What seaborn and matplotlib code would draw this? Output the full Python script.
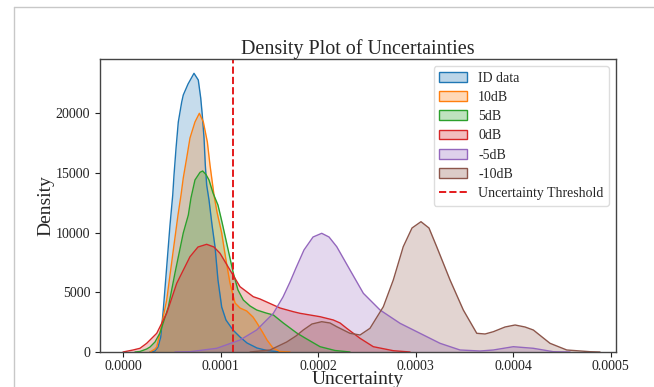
import numpy as np
import pandas as pd
import matplotlib
matplotlib.use("Agg")
import matplotlib.pyplot as plt
from matplotlib.patches import Patch
from matplotlib.lines import Line2D
import seaborn as sns

# ---- data (x in units of 1e-4, density values) ----
id_x = [0.277, 0.328, 0.359, 0.387, 0.413, 0.448, 0.482, 0.510, 0.523, 0.544, 0.567, 0.602,
        0.618, 0.667, 0.728, 0.772, 0.797, 0.813, 0.831, 0.844, 0.858, 0.882, 0.913, 0.944,
        0.974, 1.012, 1.056, 1.128, 1.200, 1.272, 1.374, 1.477, 1.610]
id_y = [0, 84, 419, 1256, 3518, 7119, 10636, 13149, 14824, 17085, 19263, 20938,
        21524, 22445, 23341, 22780, 21273, 19849, 17922, 15661, 13986, 12730, 10636, 8794,
        6030, 3769, 2680, 1843, 1256, 754, 335, 126, 0]

db10_x = [0.277, 0.328, 0.346, 0.379, 0.448, 0.516, 0.564, 0.595, 0.618, 0.653, 0.687, 0.738,
          0.783, 0.824, 0.865, 0.892, 0.933, 0.964, 1.012, 1.056, 1.097, 1.149, 1.200, 1.269,
          1.333, 1.374, 1.436, 1.477, 1.538, 1.610, 1.713]
db10_y = [0, 251, 419, 1591, 4355, 8543, 11474, 13149, 14573, 16248, 17923, 19263,
          19991, 19263, 17588, 15661, 13149, 11724, 9966, 7705, 5779, 4104, 3685, 3434,
          2931, 2429, 1591, 1005, 335, 42, 0]

db5_x = [0.123, 0.174, 0.243, 0.277, 0.328, 0.379, 0.465, 0.533, 0.618, 0.670, 0.697, 0.738,
         0.790, 0.817, 0.851, 0.882, 0.923, 0.974, 1.015, 1.056, 1.131, 1.179, 1.234, 1.303,
         1.371, 1.467, 1.542, 1.644, 1.713, 1.782, 1.867, 2.021, 2.174, 2.328]
db5_y = [0, 42, 251, 419, 838, 1591, 3769, 6616, 9966, 11474, 12898, 14405,
         15050, 15159, 14866, 14405, 13316, 12306, 10888, 9380, 6616, 5193, 4355, 3853,
         3518, 3266, 3099, 2429, 2010, 1591, 1173, 444, 126, 0]

db0_x = [0.000, 0.103, 0.174, 0.243, 0.277, 0.346, 0.448, 0.551, 0.687, 0.769, 0.858, 0.933,
         0.995, 1.097, 1.200, 1.336, 1.405, 1.542, 1.610, 1.747, 1.815, 2.021, 2.157, 2.226,
         2.294, 2.431, 2.567, 2.772, 2.944]
db0_y = [0, 168, 310, 729, 1005, 1566, 3241, 5754, 7981, 8794, 9020, 8794,
         8266, 6868, 5469, 4631, 4439, 3936, 3685, 3375, 3241, 2956, 2680, 2429,
         1985, 1147, 444, 109, 0]

dbm5_x = [0.533, 0.687, 0.961, 1.200, 1.371, 1.542, 1.641, 1.713, 1.774, 1.856, 1.949, 2.038,
          2.113, 2.192, 2.328, 2.465, 2.636, 2.841, 3.046, 3.251, 3.456, 3.662, 3.798, 4.003,
          4.208, 4.413, 4.585]
dbm5_y = [0, 25, 310, 1005, 1843, 3241, 4606, 5863, 7035, 8543, 9631, 9941,
          9631, 8819, 6868, 4916, 3518, 2404, 1566, 729, 168, 84, 168, 444,
          310, 25, 0]

dbm10_x = [1.303, 1.508, 1.679, 1.774, 1.849, 1.938, 2.038, 2.123, 2.192, 2.328, 2.431, 2.533,
           2.670, 2.772, 2.874, 2.964, 3.056, 3.138, 3.217, 3.354, 3.490, 3.628, 3.713, 3.798,
           3.918, 4.021, 4.123, 4.208, 4.379, 4.551, 4.790, 4.892]
dbm10_y = [0, 168, 838, 1340, 1843, 2345, 2538, 2429, 2119, 1566, 1424, 1985,
           3794, 6030, 8819, 10385, 10913, 10385, 8819, 6030, 3518, 1566, 1508, 1700,
           2094, 2261, 2094, 1843, 729, 168, 25, 0]

labels = ["ID data", "10dB", "5dB", "0dB", "-5dB", "-10dB"]
series_x = [id_x, db10_x, db5_x, db0_x, dbm5_x, dbm10_x]
series_y = [id_y, db10_y, db5_y, db0_y, dbm5_y, dbm10_y]
threshold = 1.131e-4
x_ticks = [0.0, 0.0001, 0.0002, 0.0003, 0.0004, 0.0005]
y_ticks = [0, 5000, 10000, 15000, 20000]

frames = []
for lab, xs, ys in zip(labels, series_x, series_y):
    frames.append(pd.DataFrame({"Uncertainty": np.array(xs) * 1e-4, "Density": ys, "set": lab}))
df = pd.concat(frames, ignore_index=True)

sns.set_style("ticks")
plt.rcParams['font.family'] = ['Liberation Serif', 'DejaVu Serif']

colors = ['#1f77b4', '#ff7f0e', '#2ca02c', '#d62728', '#9467bd', '#8c564b']
palette = dict(zip(labels, colors))

fig = plt.figure(figsize=(6.54, 3.87), dpi=100)
ax = fig.add_axes([100 / 654, 1 - 352 / 387, 516 / 654, 293 / 387])

sns.lineplot(data=df, x="Uncertainty", y="Density", hue="set", hue_order=labels,
             palette=palette, linewidth=1.0, ax=ax, legend=False, sort=False)
for lab in labels:
    d = df[df["set"] == lab]
    ax.fill_between(d["Uncertainty"], d["Density"], 0, color=palette[lab], alpha=0.25, linewidth=0)

ax.axvline(threshold, color='#e41a1c', linestyle='--', linewidth=1.4)

ax.set_xlim(-0.0000236, 0.0005056)
ax.set_ylim(0, 24540)
ax.set_xticks(x_ticks)
ax.set_xticklabels([f"{v:.4f}" for v in x_ticks])
ax.set_yticks(y_ticks)
ax.set_yticklabels([str(v) for v in y_ticks])
ax.tick_params(labelsize=10, length=3.5, width=0.8, colors='#222222')
ax.tick_params(axis='x', pad=2)
for s in ax.spines.values():
    s.set_color('#444444')
    s.set_linewidth(1.0)

ax.set_title("Density Plot of Uncertainties", fontsize=14.5, pad=3)
ax.set_xlabel("Uncertainty", fontsize=14, labelpad=-1)
ax.set_ylabel("Density", fontsize=14, labelpad=1)

handles = [Patch(facecolor=matplotlib.colors.to_rgba(c, 0.3), edgecolor=c, linewidth=1.0) for c in colors]
handles.append(Line2D([0], [0], color='#e41a1c', linestyle='--', linewidth=1.4))
ax.legend(handles, labels + ["Uncertainty Threshold"], loc="upper right", fontsize=10,
          frameon=True, framealpha=1.0, edgecolor='#dddddd', borderaxespad=0.5,
          handlelength=2.0, labelspacing=0.45)

# screenshot frame lines
fig.add_artist(Line2D([14 / 654, 1], [1 - 7.3 / 387, 1 - 7.3 / 387], color='#c8c8c8', linewidth=1.0))
fig.add_artist(Line2D([14 / 654, 14 / 654], [0, 1 - 7.3 / 387], color='#c8c8c8', linewidth=1.0))

fig.savefig("out.png", dpi=100)
